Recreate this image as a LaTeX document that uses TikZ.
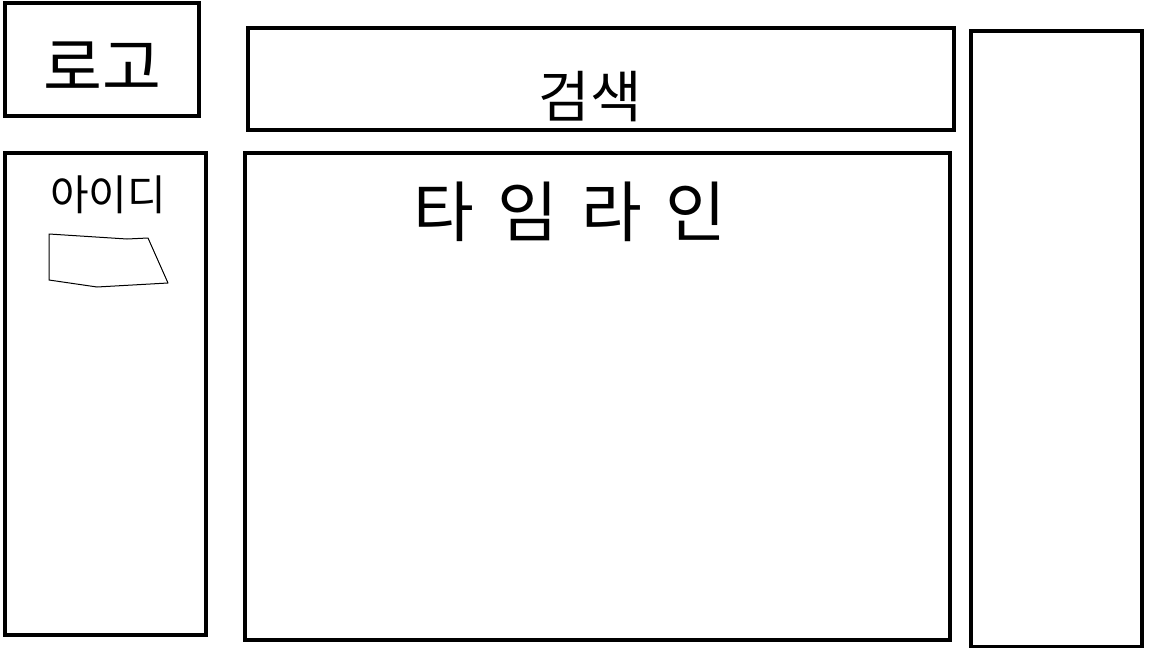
\documentclass[tikz,border=0pt]{standalone}
\usepackage{fontspec}
\newfontfamily\hangul{Noto Sans CJK KR}
\newfontfamily\hangulwide[LetterSpace=35]{Noto Sans CJK KR}
\usepackage{tikz}
\usetikzlibrary{positioning,fit}
\tikzset{
  panel/.style  = {rectangle, draw=black, line width=2pt, inner sep=0pt},
  scrawl/.style = {font=\hangul\fontsize{#1}{#1}\selectfont, inner sep=0pt, text=black},
  wide/.style   = {font=\hangulwide\fontsize{#1}{#1}\selectfont, inner sep=0pt, text=black},
  sketch/.style = {draw=black, line width=0.5pt, line join=round},
}

\begin{document}
\begin{tikzpicture}[x=0.5pt, y=-0.5pt]
  \useasboundingbox (0,0) rectangle (1152,648);

  %% ---------------- header: logo and search bar ----------------
  \node[panel, fit={(5,3)(199,116)}] (logo) {};
  \node[scrawl=32pt] (logotxt) at (102,66) {로고};

  \node[panel, fit={(248,28)(954,130)}] (search) {};
  \node[scrawl=28pt] (searchtxt) at (590,97) {검색};

  %% ---------------- left column: login ----------------
  \node[panel, fit={(5,153)(206,635)}] (login) {};
  \node[scrawl=21pt] (idtxt) at (108,195) {아이디};
  \draw[sketch] (49,234) -- (127,239) -- (148,238) -- (168,283)
    -- (97,287) -- (49,280) -- cycle;

  %% ---------------- centre: timeline ----------------
  \node[panel, fit={(245,153)(950,640)}] (timeline) {};
  \node[wide=33pt] (timelinetxt) at (570,212) {타임라인};

  %% ---------------- right column ----------------
  \node[panel, fit={(971,31)(1142,647)}] (side) {};
\end{tikzpicture}
\end{document}
